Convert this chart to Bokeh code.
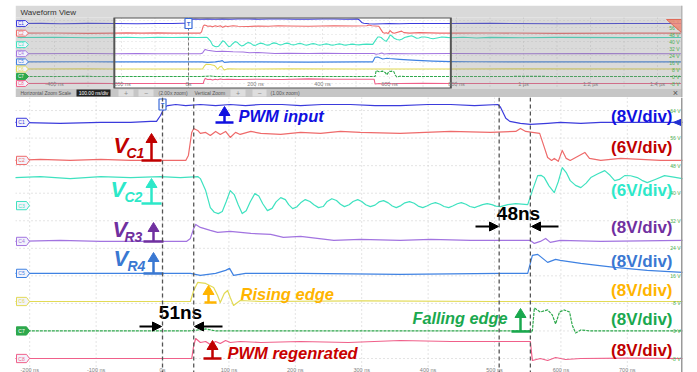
from bokeh.plotting import figure
from bokeh.layouts import column
from bokeh.models import Range1d, Span
from bokeh.core.properties import value
from bokeh.embed import file_html
from bokeh.resources import INLINE

FONT = value("Liberation Sans")

# ------------------------------------------------------------------ data
channels = ["C1", "C2", "C3", "C4", "C5", "C6", "C7", "C8"]
volts_per_div = [8, 6, 6, 8, 8, 8, 8, 8]
offset_div = [8.57, 7.19, 5.55, 4.25, 3.09, 2.07, 1.0, 0.0]

t_c1 = [-510, -440, -380, -300, -223, -154, -93, -48, -18, -9, -3, 3, 8, 20, 35, 57, 80, 102, 125, 148,
        180, 208, 240, 283, 320, 358, 400, 434, 470, 505, 509, 517, 523, 539, 554, 580, 599, 630, 660, 720,
        783, 900, 1100, 1300, 1470]
v_c1 = [0, 0.2, -0.2, 0.2, 0, -0.3, 0, 0, 0.3, 0.3, 2.0, 4.4, 4.9, 5.2, 4.9, 5.2, 4.9, 5.2, 4.9, 5.2,
        5.2, 4.9, 5.2, 5.2, 4.9, 4.9, 5.2, 5.2, 4.9, 5.2, 4.4, 1.2, 0.3, -0.3, -0.6, -0.3, 0, -0.3, 0, 0,
        0, 0.2, -0.2, 0, 0]

t_c2 = [-510, -400, -300, -223, -184, -139, -93, -48, -3, 35, 39, 44, 47, 53, 57, 65, 72, 80, 87, 95,
        102, 110, 117, 133, 148, 178, 208, 238, 268, 298, 358, 434, 494, 532, 539, 547, 557, 568, 575, 580,
        586, 590, 596, 602, 608, 614, 636, 643, 660, 690, 720, 750, 783, 900, 1100, 1300, 1470]
v_c2 = [0, 0.2, -0.2, 0, 0.22, 0, 0.22, 0, 0, 0, 1.09, 6.1, 6.97, 6.53, 5.88, 6.1, 5.44, 6.32, 5.66, 6.32,
        5.0, 6.1, 5.66, 6.32, 5.88, 5.66, 6.1, 5.88, 6.32, 6.1, 5.88, 6.32, 6.1, 6.32, 6.97, 6.32, 6.1, 5.88, 2.83, 0.65,
        0, 0.44, -0.2, 2.18, 0.44, 0, 1.74, 0.44, 0, 0.44, 0.22, 0, 0, 0.2, -0.2, 0, 0]

t_c3 = [-510, -400, -300, -223, -184, -139, -93, -48, -3, 27, 53, 57, 65, 72, 78, 84, 90, 96, 102, 108,
        114, 120, 126, 132, 139, 145, 151, 158, 165, 171, 178, 185, 190, 196, 202, 208, 215, 222, 228, 235,
        242, 248, 255, 262, 268, 274, 281, 287, 294, 300, 306, 313, 320, 326, 333, 340, 346, 352, 359, 365,
        372, 379, 385, 392, 398, 405, 411, 418, 424, 431, 437, 444, 450, 457, 463, 470, 476, 482, 489, 496,
        502, 509, 520, 532, 550, 557, 565, 570, 575, 582, 590, 596, 602, 608, 614, 622, 630, 638, 645, 655,
        666, 674, 681, 688, 696, 705, 715, 722, 730, 742, 756, 770, 783, 820, 860, 900, 1000, 1100, 1300, 1470]
v_c3 = [6.1, 6.32, 5.88, 6.1, 6.32, 5.88, 6.32, 6.1, 6.32, 6.1, 6.32, 5.88, 3.27, -0.44, -1.45, -1.74, -1.3, 0.9, 3.27, 2.4,
        0.2, -1.74, -1.1, 0.8, 2.61, 2.1, 0.4, -1.09, -0.6, 0.8, 1.74, 1.3, 0.2, -0.65, -0.3, 0.6, 1.31, 0.9, 0.2, -0.44,
        -0.2, 0.9, 1.5, 1.1, 0.3, -0.22, 0.2, 0.9, 1.31, 0.9, 0.2, -0.22, 0.1, 0.8, 1.09, 0.6, -0.1, -0.44, 0.0, 0.6,
        0.87, 0.5, -0.1, -0.44, -0.1, 0.4, 0.65, 0.3, -0.2, -0.44, -0.1, 0.4, 0.65, 0.3, -0.2, -0.44, -0.1, 0.2, 0.44, 0.2,
        -0.1, -0.22, 0.2, 0.44, 0.22, 3.27, 6.53, 6.6, 6.1, 4.3, 2.83, 5.2, 8.28, 7.2, 5.44, 4.4, 3.92, 4.9, 6.1, 6.9,
        7.62, 6.6, 5.44, 5.7, 6.53, 6.5, 6.1, 5.5, 5.0, 5.7, 6.53, 6.2, 5.88, 6.3, 5.7, 6.2, 5.9, 6.2, 6.0, 6.1]

t_c4 = [-510, -300, -223, -154, -93, -18, 36, 42, 47, 50, 57, 72, 83, 102, 133, 163, 182, 208, 258, 298,
        358, 404, 464, 509, 554, 560, 569, 577, 584, 599, 660, 783, 1000, 1200, 1470]
v_c4 = [0, 0.3, 0, 0.29, 0, 0, 0, 0.87, 3.78, 4.94, 4.07, 3.19, 2.61, 2.9, 2.32, 2.03, 1.16, 1.45, 0.29, 0.58,
        0.29, 0.58, 0.29, 0.29, 0.29, -0.58, 0, 0.87, -0.29, 0.29, 0, 0.29, 0, 0.2, 0]

t_c5 = [-510, -300, -223, -93, 42, 57, 80, 95, 101, 107, 125, 208, 358, 509, 550, 557, 565, 580, 592, 599,
        630, 655, 681, 730, 783, 850, 1000, 1470]
v_c5 = [0, 0.2, 0, 0, 0, -0.58, 0, 0.87, 1.45, -0.58, 0, 0, -0.29, 0, 0, 5.23, 5.52, 3.19, 4.07, 3.78,
        2.9, 2.32, 1.74, 0.87, 0.29, 0.1, 0, 0]

t_c6 = [-510, -300, -223, -93, 42, 47, 53, 65, 77, 83, 87, 93, 98, 102, 107, 113, 117, 148, 300, 500,
        783, 1000, 1470]
v_c6 = [0, 0.2, 0, 0, 0, 3.19, 5.52, 5.23, 4.07, 1.74, -0.29, 2.32, 3.19, 1.16, -1.16, -0.29, 0.29, 0, 0.15, 0,
        0, 0.15, 0]

t_c7 = [-510, -300, -223, -93, 40, 55, 65, 80, 300, 500, 557, 560, 569, 580, 587, 592, 598, 605, 613, 617,
        622, 630, 645, 783, 1000, 1470]
v_c7 = [0, 0.1, 0, 0, 0, 0.3, 0.58, 0, 0, 0, 0, 6.68, 5.52, 6.1, 4.65, 2.03, 5.52, 6.1, 5.52, 1.74,
        -0.58, 0.29, 0, 0, 0.1, 0]

t_c8 = [-510, -300, -223, -93, 44, 47, 50, 57, 65, 72, 80, 87, 95, 102, 117, 148, 208, 280, 358, 434,
        509, 554, 557, 569, 580, 592, 607, 630, 700, 783, 1000, 1470]
v_c8 = [0, 0.1, 0, 0, 0, 3.78, 5.81, 4.65, 4.94, 4.07, 4.94, 4.36, 5.23, 4.65, 4.94, 4.65, 4.94, 4.65, 5.23, 4.94,
        4.94, 4.94, -0.58, 0, -0.58, 0.29, -0.29, 0, 0.1, 0, 0, 0]

trace_t = [t_c1, t_c2, t_c3, t_c4, t_c5, t_c6, t_c7, t_c8]
trace_v = [v_c1, v_c2, v_c3, v_c4, v_c5, v_c6, v_c7, v_c8]

edge_times = [0, 47, 507, 554]          # dashed measurement cursors (ns)
delay_labels = ["51ns", "48ns"]

main_ticks = [-200, -100, 0, 100, 200, 300, 400, 500, 600, 700]
main_tick_labels = ["-200 ns", "-100 ns", "0s", "100 ns", "200 ns", "300 ns", "400 ns", "500 ns", "600 ns", "700 ns"]
ov_ticks = [-400, -200, 0, 200, 400, 600, 800, 1000, 1200, 1400]
ov_tick_labels = ["-400 ns", "-200 ns", "0s", "200 ns", "400 ns", "600 ns", "800 ns", "1 µs", "1.2 µs", "1.4 µs"]
grid_volts = [-8, 0, 8, 16, 24, 32, 40, 48, 56, 64]

# ------------------------------------------------------------------ style
trace_colors = ["#3b3bdc", "#ee6a6a", "#3fe2c0", "#a274e0", "#3f82e2", "#e2da55", "#2ea84c", "#f0608a"]
label_colors = ["#1010e0", "#c00000", "#2de8c9", "#7030a0", "#3a78d2", "#ffb400", "#1aa84e", "#c00000"]
scale_label_py = [116, 147, 190, 227, 261, 290, 319, 350]

W = 697
TOP_H = 97
MAIN_H = 275
LEFT = 15
RIGHT_PX = 682
main_x = (-221.4, 783.1)
main_y = (-0.508, 9.474)
ov_x = (-516.4, 1474.6)
ov_y = (-2.0, 11.143)
PX = dict(x_range_name="px", y_range_name="px")


def to_div(i):
    return [offset_div[i] + v / volts_per_div[i] for v in trace_v[i]]


def txt(p, x, y, s, size, color, align="left", style="normal", **kw):
    p.text(x=x if isinstance(x, list) else [x], y=y if isinstance(y, list) else [y],
           text=s if isinstance(s, list) else [s], text_font=FONT, text_font_size=value(size),
           text_color=color, text_align=align, text_baseline="middle", text_font_style=style, **kw)


def tags(p, xs, h, fs):
    for i, ch in enumerate(channels):
        o = offset_div[i]
        filled = ch == "C7"
        p.patch(x=xs, y=[o + h, o + h, o, o - h, o - h], x_range_name="px",
                fill_color=trace_colors[i] if filled else "#f3f3fb",
                line_color=trace_colors[i], line_width=1)
        txt(p, (xs[0] + xs[1]) / 2, o, ch, fs, "white" if filled else trace_colors[i], align="center",
            x_range_name="px")


def rise_marker(p, x, ytop, ybase, x0, x1, color):
    p.patch(x=[x - 5.5, x + 5.5, x], y=[ytop + 9, ytop + 9, ytop], fill_color=color, line_color=color, **PX)
    p.segment(x0=[x], y0=[ytop + 8], x1=[x], y1=[ybase], line_color=color, line_width=2.5, **PX)
    p.segment(x0=[x0], y0=[ybase], x1=[x1], y1=[ybase], line_color=color, line_width=2.5, **PX)


def h_arrow(p, xa, xb, y, color):
    d = 1 if xb > xa else -1
    p.segment(x0=[xa], y0=[y], x1=[xb - d * 6], y1=[y], line_color=color, line_width=2, **PX)
    p.patch(x=[xb - d * 9, xb - d * 9, xb], y=[y - 4.5, y + 4.5, y], fill_color=color, line_color=color, **PX)


# ------------------------------------------------------------------ overview (top)
top = figure(width=W, height=TOP_H, x_range=Range1d(*ov_x), y_range=Range1d(*ov_y),
             x_axis_type=None, y_axis_type=None, toolbar_location=None, output_backend="svg",
             min_border_left=LEFT, min_border_right=W - RIGHT_PX, min_border_top=5, min_border_bottom=0)
top.outline_line_color = None
top.background_fill_color = "white"
top.border_fill_color = "white"
top.extra_x_ranges = {"px": Range1d(LEFT, RIGHT_PX)}
top.extra_y_ranges = {"px": Range1d(TOP_H, 5)}

for t in range(-500, 1500, 100):
    top.segment(x0=[t], y0=[17], x1=[t], y1=[88], y_range_name="px", line_color="#d0d0d0",
                line_dash="1 3", line_width=1)
for v in grid_volts:
    yv = offset_div[6] + v / 8
    top.segment(x0=[ov_x[0]], y0=[yv], x1=[ov_x[1]], y1=[yv], line_color="#dddddd", line_dash="1 3")

for i in range(8):
    top.line(trace_t[i], to_div(i), line_color=trace_colors[i], line_width=1.1, line_join="round",
             line_dash="3 1" if channels[i] == "C7" else "solid")

top.quad(left=[ov_x[0], main_x[1]], right=[main_x[0], ov_x[1]], top=[17, 17], bottom=[88, 88],
         y_range_name="px", fill_color="#8c8c8c", fill_alpha=0.32, line_color=None)
top.quad(left=[main_x[0]], right=[main_x[1]], top=[17], bottom=[88], y_range_name="px",
         fill_color=None, line_color="#555555", line_width=2)
top.segment(x0=[0], y0=[17], x1=[0], y1=[88], y_range_name="px", line_color="#777777",
            line_dash="3 2", line_width=1)

tags(top, [16, 25, 28, 25, 16], 0.42, "4.5px")

txt(top, ov_ticks, [83.5] * len(ov_ticks), ov_tick_labels, "5.5px", "#808080", align="center",
    y_range_name="px")
txt(top, [679] * len(grid_volts), [offset_div[6] + v / 8 for v in grid_volts],
    [f"{v} V" for v in grid_volts], "5px", "#4caf50", align="right", x_range_name="px")

top.patch(x=[666, 681, 681], y=[19, 19, 32], fill_color="#f08a78", line_color="#e06a58", fill_alpha=0.85, **PX)

top.rect(x=[0], y=[23], width=7, height=10, width_units="screen", height_units="screen",
         y_range_name="px", fill_color="white", line_color="#3a6ad8", line_width=1.2)
txt(top, 0, 23.5, "T", "6px", "#3a6ad8", align="center", style="bold", y_range_name="px")

# title bar
top.quad(left=[LEFT], right=[RIGHT_PX], top=[5], bottom=[17], fill_color="#d9d9d9", line_color=None, **PX)
txt(top, 20, 11.5, "Waveform View", "8px", "#333333", **PX)
# toolbar
top.quad(left=[LEFT], right=[RIGHT_PX], top=[88], bottom=[97], fill_color="#c6c6c6", line_color=None, **PX)
txt(top, 20, 92.5, "Horizontal Zoom Scale", "5px", "#555555", **PX)
top.quad(left=[76], right=[110], top=[89], bottom=[96], fill_color="#222222", line_color=None, **PX)
txt(top, 93, 92.5, "100.00 ns/div", "5px", "white", align="center", **PX)
for (a, b, s) in [(118, 133, "+"), (138, 153, "−"), (230, 245, "+"), (252, 266, "−")]:
    top.quad(left=[a], right=[b], top=[89], bottom=[96], fill_color="#dedede", line_color=None, **PX)
    txt(top, (a + b) / 2, 92.5, s, "7px", "#8a8a8a", align="center", **PX)
txt(top, 158, 92.5, "(2.00x zoom)", "5px", "#555555", **PX)
txt(top, 194, 92.5, "Vertical Zoom", "5px", "#555555", **PX)
txt(top, 270, 92.5, "(1.00x zoom)", "5px", "#555555", **PX)
txt(top, 675, 92.5, "×", "9px", "#555555", align="center", **PX)
top.segment(x0=[681.5], y0=[5], x1=[681.5], y1=[97], line_color="#aaaaaa", line_width=1.5, **PX)

# ------------------------------------------------------------------ main view
main = figure(width=W, height=MAIN_H, x_range=Range1d(*main_x), y_range=Range1d(*main_y),
              x_axis_type=None, y_axis_type=None, toolbar_location=None, output_backend="svg",
              min_border_left=LEFT, min_border_right=W - RIGHT_PX, min_border_top=0, min_border_bottom=0)
main.outline_line_color = None
main.background_fill_color = "white"
main.border_fill_color = "white"
main.extra_x_ranges = {"px": Range1d(LEFT, RIGHT_PX)}
main.extra_y_ranges = {"px": Range1d(TOP_H + MAIN_H, TOP_H)}

for t in main_ticks:
    main.add_layout(Span(location=t, dimension="height", line_color="#c8c8c8", line_dash="1 3",
                         line_width=1, level="underlay"))
for v in grid_volts:
    main.add_layout(Span(location=offset_div[6] + v / 8, dimension="width", line_color="#c8c8c8",
                         line_dash="1 3", line_width=1, level="underlay"))

for t in edge_times:
    main.add_layout(Span(location=t, dimension="height", line_color="#555555", line_dash="4 3",
                         line_width=1.3))

for i in range(8):
    main.line(trace_t[i], to_div(i), line_color=trace_colors[i], line_width=1.2, line_join="round",
              line_dash="3 1" if channels[i] == "C7" else "solid")

tags(main, [16, 26, 29, 26, 16], 0.15, "5px")

txt(main, main_ticks, [369] * len(main_ticks), main_tick_labels, "5.5px", "#808080", align="center",
    y_range_name="px")
txt(main, [680] * len(grid_volts), [offset_div[6] + v / 8 for v in grid_volts],
    [f"{v} V" for v in grid_volts], "5px", "#4caf50", align="right", x_range_name="px")

# scale labels
txt(main, [672] * 8, scale_label_py, [f"({v}V/div)" for v in volts_per_div], "17px", label_colors,
    align="right", style="bold", **PX)

# trigger markers
main.rect(x=[0], y=[104], width=7, height=11, width_units="screen", height_units="screen",
          y_range_name="px", fill_color="white", line_color="#3a6ad8", line_width=1.2)
txt(main, 0, 104.5, "T", "6px", "#3a6ad8", align="center", style="bold", y_range_name="px")
o1 = offset_div[0]
main.patch(x=[673, 681, 681], y=[o1, o1 + 0.12, o1 - 0.12], x_range_name="px",
           fill_color="#2030d0", line_color="#2030d0")

# signal name labels
for (xv, yv, xs, ys, sub, col) in [(113, 145, 126, 152, "C1", "#c00000"),
                                   (110, 189, 124, 196, "C2", "#2de8c9"),
                                   (112, 229, 124, 236, "R3", "#7030a0"),
                                   (113, 258, 127, 265, "R4", "#3a78d2")]:
    txt(main, xv, yv, "V", "22px", col, style="bold italic", **PX)
    txt(main, xs, ys, sub, "14px", col, style="bold italic", **PX)

rise_marker(main, 151, 133, 160, 141, 161, "#c00000")
rise_marker(main, 151, 178, 203, 141, 161, "#2de8c9")
rise_marker(main, 153, 222, 241, 143, 163, "#7030a0")
rise_marker(main, 153, 252, 273, 143, 163, "#3a78d2")
rise_marker(main, 224, 106, 122, 215, 233, "#1010e0")
rise_marker(main, 208, 285, 302, 204, 216, "#ffb400")
rise_marker(main, 520, 308, 331, 511, 531, "#1aa84e")
rise_marker(main, 212, 340, 358, 203, 221, "#c00000")

txt(main, 238, 115, "PWM input", "16.5px", "#1010e0", style="bold italic", **PX)
txt(main, 240, 293, "Rising edge", "16.5px", "#ffb400", style="bold italic", **PX)
txt(main, 412, 317, "Falling edge", "16.3px", "#1aa84e", style="bold italic", **PX)
txt(main, 227, 352, "PWM regenrated", "16.5px", "#c80000", style="bold italic", **PX)

# delay measurements
txt(main, 180, 312, delay_labels[0], "19px", "black", align="center", style="bold", **PX)
txt(main, 518, 213, delay_labels[1], "19px", "black", align="center", style="bold", **PX)
h_arrow(main, 139, 161, 326, "black")
h_arrow(main, 222, 194, 326, "black")
h_arrow(main, 475, 498, 226, "black")
h_arrow(main, 558, 531, 226, "black")

main.segment(x0=[681.5], y0=[TOP_H], x1=[681.5], y1=[TOP_H + MAIN_H], line_color="#9a9a9a",
             line_width=2, **PX)

layout = column(top, main, spacing=0)
open("out.html", "w").write(file_html(layout, INLINE))
